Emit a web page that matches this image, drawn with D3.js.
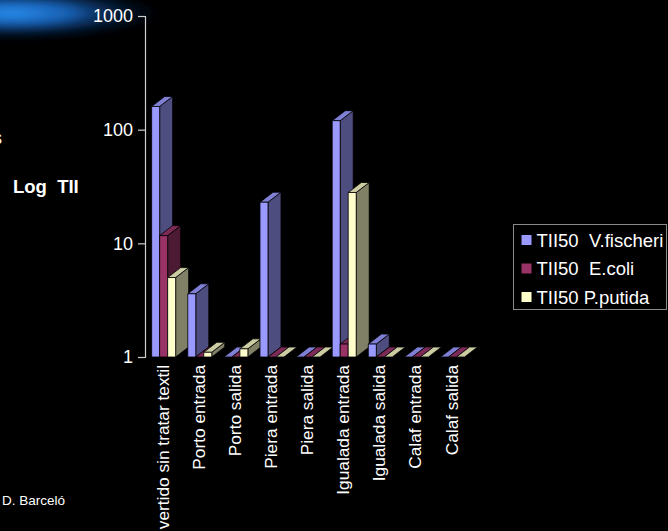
<!DOCTYPE html>
<html>
<head>
<meta charset="utf-8">
<script src="https://cdn.jsdelivr.net/npm/d3@7"></script>
<style>
  html, body { margin: 0; padding: 0; background: #000; }
  svg { display: block; }
  text { font-family: "Liberation Sans", Arial, sans-serif; fill: #fff; }
</style>
</head>
<body>
<svg id="chart" width="668" height="531"></svg>
<script>
// Sampling sites
const categories = [
  "vertido sin tratar textil", "Porto entrada", "Porto salida",
  "Piera entrada", "Piera salida", "Igualada entrada",
  "Igualada salida", "Calaf entrada", "Calaf salida"
];
// Toxicity units (TII50) per test organism
const seriesNames = ["TII50  V.fischeri", "TII50  E.coli", "TII50 P.putida"];
const vFischeri = [160, 3.6, 1, 23, 1, 120, 1.3, 1, 1];
const eColi     = [11.7, 1, 1, 1, 1, 1.3, 1, 1, 1];
const pPutida   = [5, 1.1, 1.18, 1, 1, 28, 1, 1, 1];
const yTicks    = [1, 10, 100, 1000];

const series = [vFischeri, eColi, pPutida];
const faceColors = [
  { front: "#9999ff", top: "#7f7fd6", side: "#4d4d80" },
  { front: "#993366", top: "#7d2a56", side: "#4d1a33" },
  { front: "#ffffcc", top: "#cccca3", side: "#808066" }
];

const svg = d3.select("#chart");
const defs = svg.append("defs");

// Blue light streak in the upper-left corner
const grad = defs.append("radialGradient").attr("id", "glow");
grad.append("stop").attr("offset", "0%").attr("stop-color", "#2a90f0").attr("stop-opacity", 1);
grad.append("stop").attr("offset", "40%").attr("stop-color", "#1a6fd0").attr("stop-opacity", 0.85);
grad.append("stop").attr("offset", "75%").attr("stop-color", "#0e3f80").attr("stop-opacity", 0.35);
grad.append("stop").attr("offset", "100%").attr("stop-color", "#06204a").attr("stop-opacity", 0);
defs.append("filter").attr("id", "soft")
  .append("feGaussianBlur").attr("stdDeviation", 3.5);
svg.append("ellipse")
  .attr("cx", 12).attr("cy", 13).attr("rx", 150).attr("ry", 27)
  .attr("fill", "url(#glow)").attr("filter", "url(#soft)");

// Scales
const floorY = 357;
const y = d3.scaleLog().domain([1, 1000]).range([floorY, 16]);
const x = d3.scaleBand().domain(categories).range([145, 470]);
const barW = 8, depthX = 13, depthY = 10;
const inner = d3.scaleBand().domain(d3.range(series.length))
  .range([0, barW * series.length]).paddingInner(0).paddingOuter(0);

// Y axis
const axis = svg.append("g").attr("transform", "translate(145,0)")
  .call(d3.axisLeft(y).tickValues(yTicks).tickFormat(d3.format("d")).tickSize(7).tickPadding(5));
axis.select(".domain").attr("stroke", "#cfcfcf").attr("stroke-width", 1.2);
axis.selectAll(".tick line").attr("stroke", "#cfcfcf").attr("stroke-width", 1.2);
axis.selectAll(".tick text")
  .attr("fill", "#fff").attr("font-size", 18)
  .attr("font-family", "'Liberation Sans', Arial, sans-serif");

// 3D columns
const bars = svg.append("g").attr("stroke", "#000").attr("stroke-width", 0.8)
  .attr("stroke-linejoin", "round");
categories.forEach((cat, ci) => {
  const gx = x(cat) + x.bandwidth() / 2 - (barW * series.length) / 2 + 0.6;
  series.forEach((vals, si) => {
    const c = faceColors[si];
    const x0 = gx + inner(si);
    const x1 = x0 + barW;
    const yt = y(vals[ci]);
    if (floorY - yt > 0.5) {
      bars.append("polygon")
        .attr("points", [[x1, yt], [x1 + depthX, yt - depthY], [x1 + depthX, floorY - depthY], [x1, floorY]].join(" "))
        .attr("fill", c.side);
    }
    bars.append("polygon")
      .attr("points", [[x0, yt], [x1, yt], [x1 + depthX, yt - depthY], [x0 + depthX, yt - depthY]].join(" "))
      .attr("fill", c.top);
    if (floorY - yt > 0.5) {
      bars.append("rect")
        .attr("x", x0).attr("y", yt).attr("width", barW).attr("height", floorY - yt)
        .attr("fill", c.front);
    }
  });
});

// Category labels, rotated
svg.append("g").selectAll("text").data(categories).join("text")
  .attr("transform", d => `translate(${x(d) + x.bandwidth() / 2 - 0.5},365) rotate(-90)`)
  .attr("text-anchor", "end").attr("dy", "0.35em")
  .attr("font-size", 17.3)
  .text(d => d);

// Axis title
svg.append("text").attr("x", 13).attr("y", 193)
  .attr("font-size", 18.5).attr("font-weight", "bold")
  .style("white-space", "pre").text("Log  TII");

// Legend
const lg = svg.append("g");
lg.append("rect").attr("x", 513.5).attr("y", 224.5).attr("width", 153).attr("height", 85)
  .attr("fill", "#000").attr("stroke", "#8a8a8a").attr("stroke-width", 1);
seriesNames.forEach((name, i) => {
  const cy = 240 + i * 28.5;
  lg.append("rect").attr("x", 521).attr("y", cy - 5.5).attr("width", 11).attr("height", 11)
    .attr("fill", faceColors[i].front).attr("stroke", "#000").attr("stroke-width", 1);
  lg.append("text").attr("x", 536.5).attr("y", cy).attr("dy", "0.36em")
    .attr("font-size", 18.5).style("white-space", "pre").text(name);
});

// Credit and clipped heading fragment
svg.append("text").attr("x", 2).attr("y", 505).attr("font-size", 13.5).text("D. Barceló");
svg.append("text").attr("x", -7).attr("y", 144).attr("font-size", 18).text("s");
</script>
</body>
</html>
